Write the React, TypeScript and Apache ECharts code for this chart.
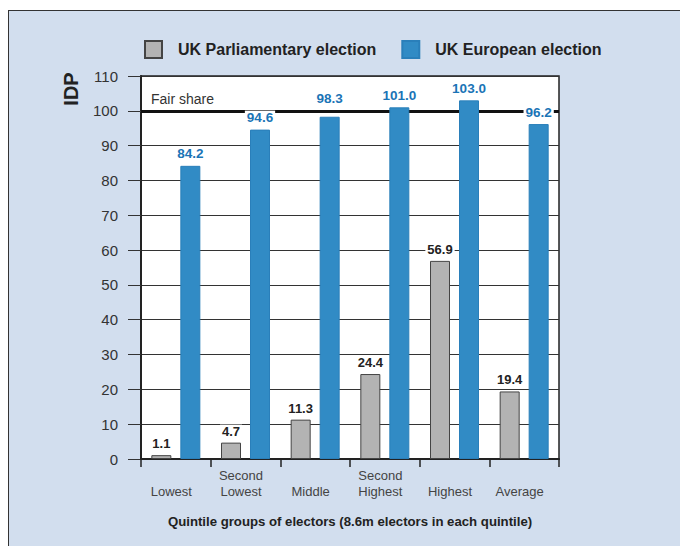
import React, { useEffect, useRef } from "react";
import * as echarts from "echarts";

const categories = ["Lowest", "Second\nLowest", "Middle", "Second\nHighest", "Highest", "Average"];
const parliamentary = [1.1, 4.7, 11.3, 24.4, 56.9, 19.4];
const european = [84.2, 94.6, 98.3, 101.0, 103.0, 96.2];
const seriesNames = ["UK Parliamentary election", "UK European election"];
const fairShare = 100;

const FONT = "'Liberation Sans', Arial, Helvetica, sans-serif";

export default function App() {
  const ref = useRef<HTMLDivElement>(null);
  useEffect(() => {
    if (!ref.current) return;
    const chart = echarts.init(ref.current, undefined, { renderer: "svg" });
    chart.setOption({
      animation: false,
      textStyle: { fontFamily: FONT },
      legend: {
        left: 131,
        top: 25,
        itemWidth: 17,
        itemHeight: 17,
        itemGap: 25,
        icon: "rect",
        textStyle: { fontSize: 16, fontWeight: "bold", color: "#222", fontFamily: FONT, padding: [0, 0, 0, 11] },
        data: seriesNames,
      },
      grid: {
        left: 133,
        right: 121,
        top: 66,
        bottom: 87,
        show: true,
        backgroundColor: "#ffffff",
        borderColor: "#222",
        borderWidth: 1.5,
      },
      xAxis: {
        type: "category",
        data: categories,
        name: "Quintile groups of electors (8.6m electors in each quintile)",
        nameLocation: "middle",
        nameGap: 56,
        nameTextStyle: { fontSize: 13.2, fontWeight: "bold", color: "#222", fontFamily: FONT },
        axisLine: { lineStyle: { color: "#222", width: 2 } },
        axisTick: { show: true, length: 8, lineStyle: { color: "#222", width: 1.5 } },
        axisLabel: {
          color: "#444",
          fontSize: 13,
          verticalAlign: "bottom",
          margin: 40,
          lineHeight: 16,
          padding: [0, 9, 0, 0],
          fontFamily: FONT,
        },
      },
      yAxis: {
        type: "value",
        min: 0,
        max: 110,
        interval: 10,
        axisLine: { show: true, lineStyle: { color: "#222", width: 2 } },
        axisTick: { show: true, length: 13, lineStyle: { color: "#333", width: 1 } },
        axisLabel: { color: "#333", fontSize: 15, margin: 23, fontFamily: FONT },
        splitLine: { lineStyle: { color: "#333", width: 1 } },
      },
      graphic: [
        {
          type: "text",
          x: 63,
          y: 79,
          rotation: Math.PI / 2,
          style: {
            text: "IDP",
            font: `bold 20px ${FONT}`,
            fill: "#222",
            textAlign: "center",
            textVerticalAlign: "middle",
          },
        },
      ],
      series: [
        {
          name: seriesNames[0],
          type: "bar",
          data: parliamentary,
          barWidth: 20,
          barGap: "45%",
          z: 1,
          itemStyle: { color: "#b3b3b3", borderColor: "#444", borderWidth: 1 },
          label: {
            show: true,
            position: "top",
            distance: 5,
            color: "#222",
            fontSize: 13,
            fontWeight: "bold",
            fontFamily: FONT,
            backgroundColor: "#ffffff",
            padding: [0, 2],
            formatter: (p: any) => Number(p.value).toFixed(1),
          },
          markLine: {
            silent: true,
            symbol: "none",
            z: 1,
            data: [{ yAxis: fairShare }],
            lineStyle: { color: "#111", width: 3, type: "solid" },
            label: {
              show: true,
              position: "insideStartTop",
              formatter: "Fair share",
              color: "#333",
              fontSize: 14,
              fontFamily: FONT,
              padding: [0, 0, 0, 5],
            },
          },
        },
        {
          name: seriesNames[1],
          type: "bar",
          data: european.map((v, i) =>
            i === 2 ? { value: v, label: { distance: 11 } } : v
          ),
          barWidth: 20,
          z: 5,
          itemStyle: { color: "#318bc5", borderColor: "#2a7fba", borderWidth: 1 },
          label: {
            show: true,
            position: "top",
            distance: 5,
            color: "#1a74b6",
            fontSize: 13.5,
            fontWeight: "bold",
            fontFamily: FONT,
            backgroundColor: "#ffffff",
            padding: [0, 2],
            formatter: (p: any) => Number(p.value).toFixed(1),
          },
        },
      ],
    });
    return () => chart.dispose();
  }, []);

  return (
    <div
      style={{
        position: "absolute",
        left: 8,
        top: 10,
        width: 672,
        height: 536,
        background: "#d2deee",
      }}
    >
      <div ref={ref} style={{ position: "absolute", left: 0, top: 0, width: 672, height: 536 }} />
      <div
        style={{
          position: "absolute",
          left: 0,
          top: 0,
          width: 672,
          height: 536,
          boxSizing: "border-box",
          borderTop: "1.5px solid #333",
          borderLeft: "1.5px solid #333",
          pointerEvents: "none",
        }}
      />
    </div>
  );
}
